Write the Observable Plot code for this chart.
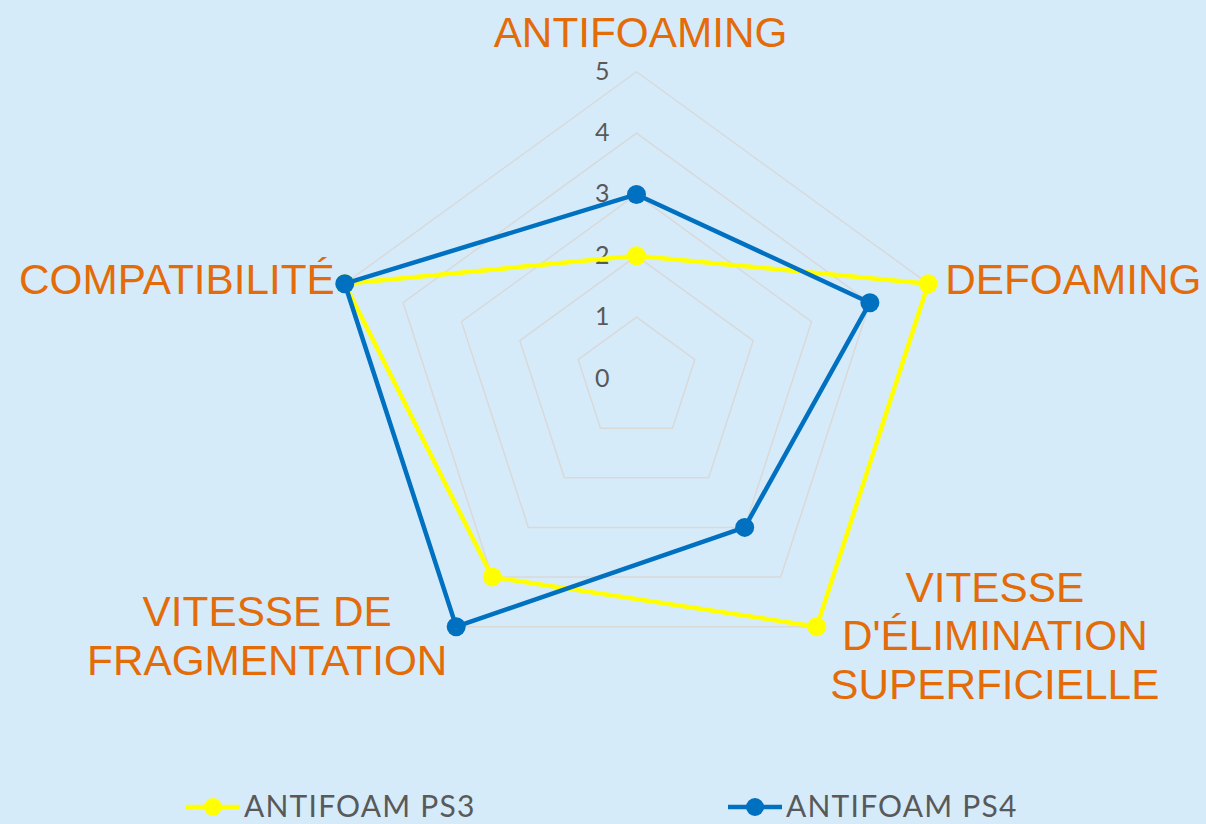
<!DOCTYPE html>
<html>
<head>
<meta charset="utf-8">
<script src="https://cdn.jsdelivr.net/npm/d3@7"></script>
<script src="https://cdn.jsdelivr.net/npm/@observablehq/plot@0.6"></script>
<style>
  html, body { margin: 0; padding: 0; background: #D6EBFA; }
  #wrap { width: 1206px; height: 824px; position: relative; overflow: hidden; background: #D6EBFA; }
  #legend { position: absolute; left: 0; top: 770px; width: 1206px; height: 54px; }
  .item { position: absolute; top: 0; height: 54px; display: flex; align-items: center; }
  .item span { font-family: Lato, "Open Sans", sans-serif; font-size: 30px; line-height: 30px; color: #595959; letter-spacing: 1.2px; margin-left: 3px; position: relative; top: 8px; }
</style>
</head>
<body>
<div id="wrap"><div id="chart"></div><div id="legend"></div></div>
<script>
// ---- data ----
const categories = ["ANTIFOAMING", "DEFOAMING", "VITESSE\nD'ÉLIMINATION\nSUPERFICIELLE", "VITESSE DE\nFRAGMENTATION", "COMPATIBILITÉ"];
const ps3 = [2, 5, 5, 4, 5];
const ps4 = [3, 4, 3, 5, 5];
const ticks = [0, 1, 2, 3, 4, 5];
const seriesNames = ["ANTIFOAM PS3", "ANTIFOAM PS4"];
const seriesColors = ["#FFFF00", "#0070C0"];

// ---- geometry helpers ----
const W = 1206, H = 770, CX = 636, CY = 378, UNIT = 61.35;
const n = categories.length;
const ang = i => (i * 2 * Math.PI) / n;
const px = (i, r) => r * Math.sin(ang(i));
const py = (i, r) => r * Math.cos(ang(i));

// grid polygons (levels 1..5, closed)
const grid = [];
for (const lv of ticks.filter(t => t > 0)) {
  for (let i = 0; i <= n; i++) grid.push({lv, x: px(i % n, lv), y: py(i % n, lv)});
}
// series points
function seriesRows(name, vals) {
  return vals.map((v, i) => ({name, i, v, x: px(i, v), y: py(i, v)}));
}
const rows3 = seriesRows(seriesNames[0], ps3);
const rows4 = seriesRows(seriesNames[1], ps4);
const closed = rows => rows.concat([rows[0]]);

const maxVal = ticks[ticks.length - 1];
const labelOpts = [
  {textAnchor: "middle", dx: 4, dy: -40},
  {textAnchor: "start", dx: 17, dy: -5},
  {textAnchor: "middle", dx: 178, dy: 8},
  {textAnchor: "middle", dx: -189, dy: 8},
  {textAnchor: "end", dx: -10, dy: -5}
];
const labelMarks = categories.map((c, i) => Plot.text([i], {
  x: d => px(d, maxVal), y: d => py(d, maxVal), text: d => categories[d],
  lineAnchor: "middle", lineHeight: 1.15,
  fontFamily: "'Liberation Sans', Arial, sans-serif", fontSize: 42.3, fill: "#E36C09",
  ...labelOpts[i]
}));

const chart = Plot.plot({
  width: W, height: H,
  marginTop: 0, marginRight: 0, marginBottom: 0, marginLeft: 0,
  x: {domain: [-CX / UNIT, (W - CX) / UNIT], axis: null},
  y: {domain: [-(H - CY) / UNIT, CY / UNIT], axis: null},
  style: {background: "transparent", overflow: "visible"},
  marks: [
    Plot.line(grid, {x: "x", y: "y", z: "lv", stroke: "#D9D9D9", strokeWidth: 1.5}),
    Plot.text(ticks, {x: () => 0, y: d => d, text: d => String(d), textAnchor: "end", dx: -27, lineAnchor: "middle",
      fontFamily: "Lato, 'Open Sans', sans-serif", fontSize: 25, fill: "#595959"}),
    Plot.line(closed(rows3), {x: "x", y: "y", stroke: seriesColors[0], strokeWidth: 4.5, strokeLinejoin: "round"}),
    Plot.dot(rows3, {x: "x", y: "y", r: 9.5, fill: seriesColors[0]}),
    Plot.line(closed(rows4), {x: "x", y: "y", stroke: seriesColors[1], strokeWidth: 4.5, strokeLinejoin: "round"}),
    Plot.dot(rows4, {x: "x", y: "y", r: 9.5, fill: seriesColors[1]}),
    ...labelMarks
  ]
});
document.getElementById("chart").appendChild(chart);

// ---- legend ----
const legend = document.getElementById("legend");
const lefts = [185, 727];
seriesNames.forEach((name, k) => {
  const item = document.createElement("div");
  item.className = "item";
  item.style.left = lefts[k] + "px";
  item.innerHTML = `<svg width="56" height="54" style="position:relative;top:10px"><line x1="1" x2="55" y1="27" y2="27" stroke="${seriesColors[k]}" stroke-width="4.5"/><circle cx="28" cy="27" r="9" fill="${seriesColors[k]}"/></svg><span>${name}</span>`;
  legend.appendChild(item);
});
</script>
</body>
</html>
